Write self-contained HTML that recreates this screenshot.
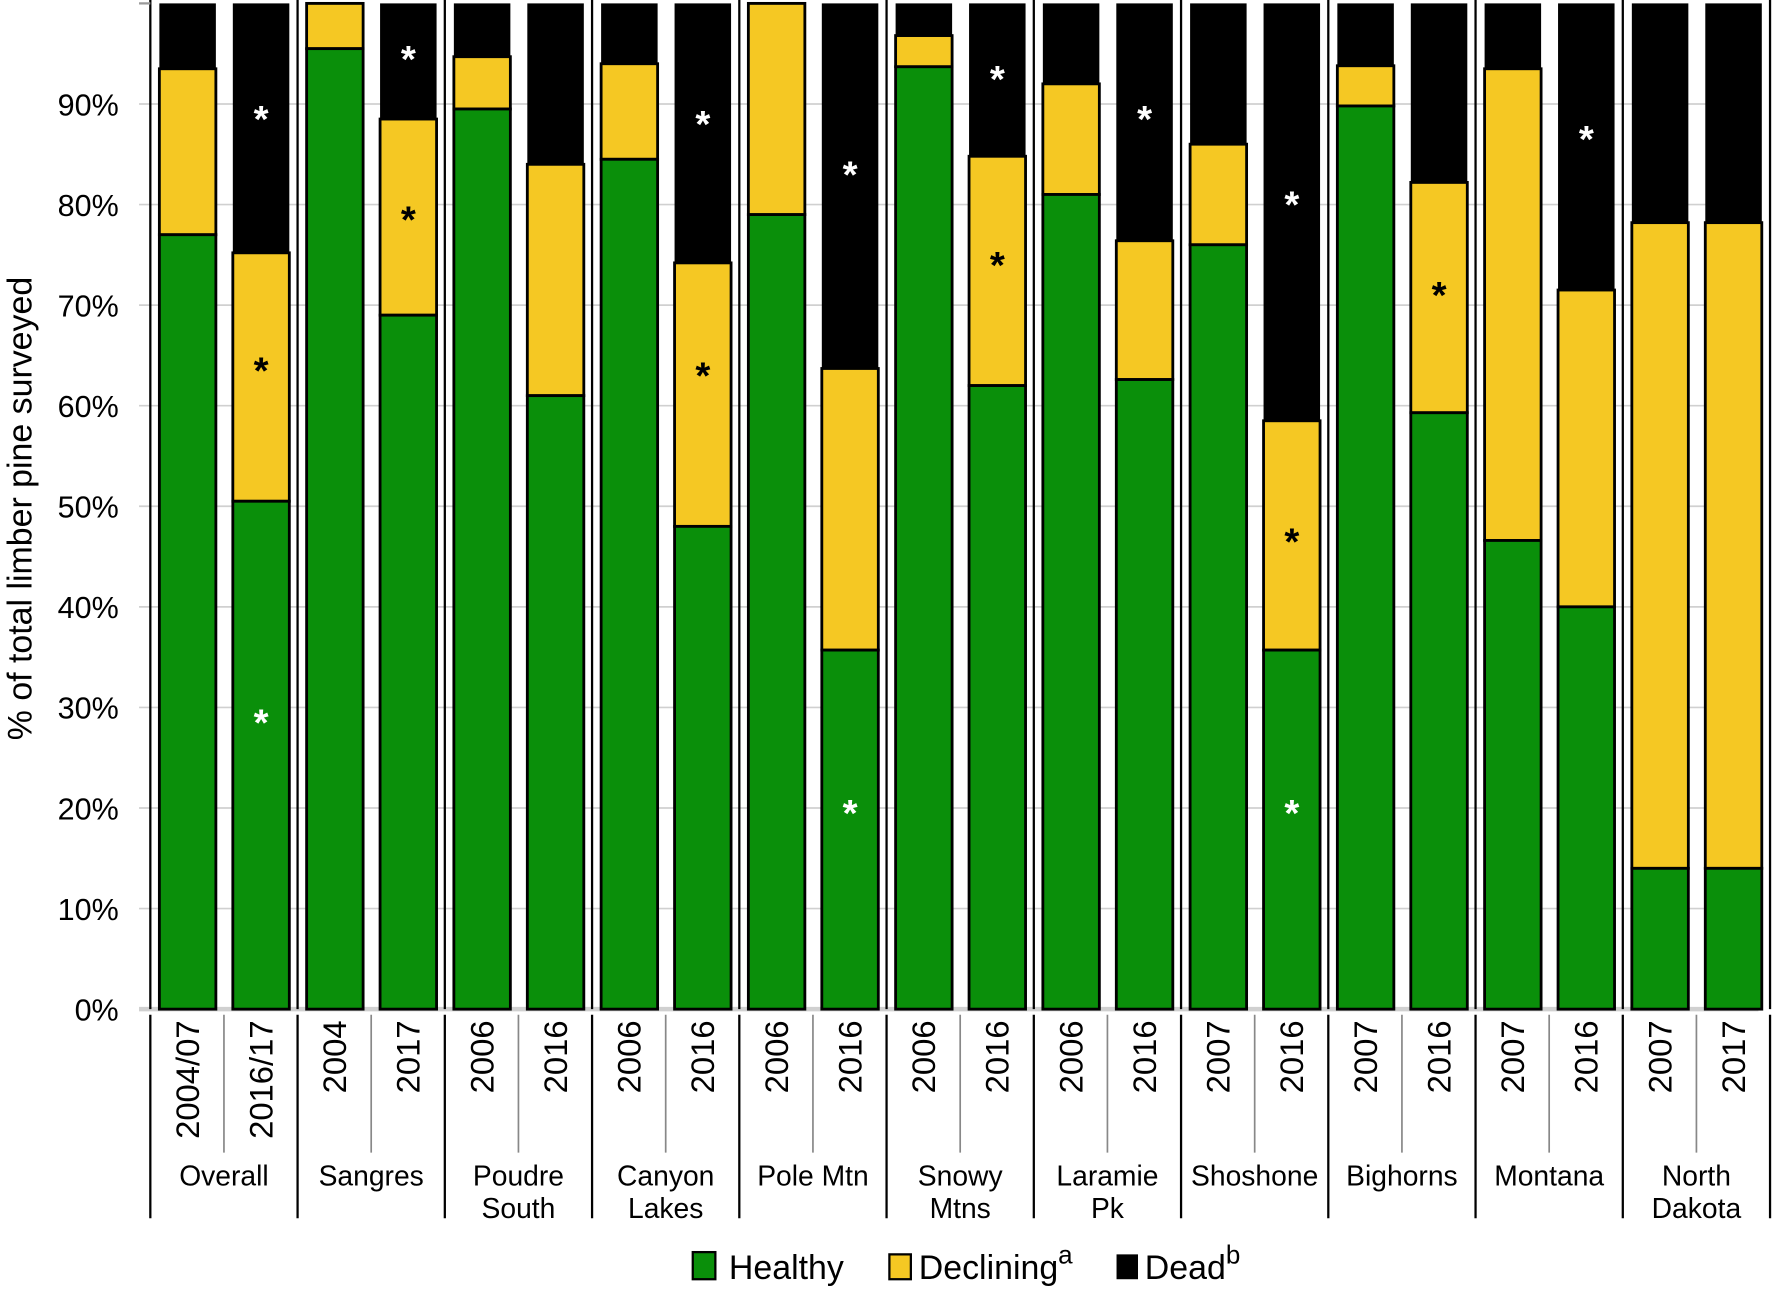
<!DOCTYPE html>
<html><head><meta charset="utf-8"><style>
html,body{margin:0;padding:0;background:#fff;}
svg{display:block;font-family:"Liberation Sans",sans-serif;}
</style></head><body>
<svg id="chart" width="1772" height="1292" viewBox="0 0 1568 1143.3" xmlns="http://www.w3.org/2000/svg">
<g id="grid"></g>
<g id="bars"></g>
<g id="stars"></g>
<g id="xaxis"></g>
<g id="yaxis"></g>
<text transform="translate(28,450) rotate(-90)" text-anchor="middle" font-size="30">% of total limber pine surveyed</text>
<g>
  <g>
    <rect x="613" y="1108" width="20" height="24" fill="#0a8f0a" stroke="#000" stroke-width="2"/>
    <text x="645" y="1132" font-size="30">Healthy</text>
  </g>
  <g>
    <rect x="787" y="1110" width="19" height="22" fill="#f5c823" stroke="#000" stroke-width="2"/>
    <text x="813" y="1132" font-size="30">Declining<tspan font-size="23" dy="-14">a</tspan></text>
  </g>
  <g>
    <rect x="988" y="1110" width="19" height="22" fill="#000"/>
    <text x="1013" y="1132" font-size="30">Dead<tspan font-size="23" dy="-14">b</tspan></text>
  </g>
</g>
</svg>
<script>
const groups = ["Overall","Sangres","Poudre South","Canyon Lakes","Pole Mtn","Snowy Mtns","Laramie Pk","Shoshone","Bighorns","Montana","North Dakota"];
const years = ["2004/07","2016/17","2004","2017","2006","2016","2006","2016","2006","2016","2006","2016","2006","2016","2007","2016","2007","2016","2007","2016","2007","2017"];
const healthy = [77,50.5,95.5,69,89.5,61,84.5,48,79,35.7,93.7,62,81,62.6,76,35.7,89.8,59.3,46.6,40,14,14];
const declining = [16.5,24.7,4.5,19.5,5.2,23,9.5,26.2,21,28,3.1,22.8,11,13.8,10,22.8,4,22.9,46.9,31.5,64.2,64.2];
const starBar = [1,1,1,3,3,7,7,9,9,11,11,13,15,15,15,17,19];
const starVal = [89,64,29,95,79,88.5,63.5,83.5,20,93,74.5,89,80.5,47,20,71.5,87];
const starWhite = [1,0,1,1,0,1,0,1,1,1,0,1,1,0,1,0,1];
const yTicks = ["0%","10%","20%","30%","40%","50%","60%","70%","80%","90%"];

const NS="http://www.w3.org/2000/svg";
const X0=133, GW=130.3, Y0=893, Y100=3;
const y = v => Y0 - (Y0-Y100)*v/100;
const barCenter = i => X0 + Math.floor(i/2)*GW + (i%2===0 ? 33 : 98);
const BW = 50;
function mk(tag, attrs, parent){const e=document.createElementNS(NS,tag);for(const k in attrs)e.setAttribute(k,attrs[k]);parent.appendChild(e);return e;}
const grid=document.getElementById('grid'), bars=document.getElementById('bars'), stars=document.getElementById('stars'), xa=document.getElementById('xaxis'), ya=document.getElementById('yaxis');

yTicks.forEach((t,i)=>{
  const v=i*10;
  const l=mk('line',{x1:X0-10,x2:1556,y1:y(v),y2:y(v),stroke:'#d0d0d0','stroke-width':i===0?4:1.5},grid);
  
  
  const tx=mk('text',{x:105,y:y(v)+10,'text-anchor':'end','font-size':27},ya);
  tx.textContent=t;
  
  
});
mk('line',{x1:X0-10,x2:X0,y1:y(100),y2:y(100),stroke:'#999','stroke-width':2},ya);

for(let g=0; g<=groups.length; g++){
  const x=X0+g*GW;
  const s=mk('line',{x1:x,x2:x,y1:0,y2:y(0),stroke:'#000','stroke-width':2},grid);
  
  
}

healthy.forEach((h,i)=>{
  const cx=barCenter(i), x=cx-BW/2;
  const top=h+declining[i];
  const dead=mk('rect',{x:x,y:y(100),width:BW,height:y(top)-y(100),fill:'#000'},bars);
  
  
  const dec=mk('rect',{x:x,y:y(top),width:BW,height:y(h)-y(top),fill:'#f5c823',stroke:'#000','stroke-width':2.5},bars);
  
  
  const hl=mk('rect',{x:x,y:y(h),width:BW,height:y(0)-y(h),fill:'#0a8f0a',stroke:'#000','stroke-width':2.5},bars);
  
  
  const yl=mk('text',{transform:`translate(${cx+10},${903}) rotate(-90)`,'text-anchor':'end','font-size':29},xa);
  yl.textContent=years[i];
  
  
});

starVal.forEach((v,k)=>{
  const s=mk('text',{x:barCenter(starBar[k]),y:y(v)+16,'text-anchor':'middle','font-size':34,'font-weight':'bold',fill:starWhite[k]?'#fff':'#000'},stars);
  s.textContent='*';
  
  
});

groups.forEach((g,i)=>{
  const gx=X0+i*GW;
  const sep=mk('line',{x1:gx,x2:gx,y1:898,y2:1078,stroke:'#000','stroke-width':2},xa);
  
  
  const sub=mk('line',{x1:gx+GW/2,x2:gx+GW/2,y1:898,y2:1020,stroke:'#888','stroke-width':1.5},xa);
  
  
  const parts=g==="Pole Mtn"?[g]:g.split(' ');
  const t=mk('text',{x:gx+GW/2,y:1049,'text-anchor':'middle','font-size':25},xa);
  
  
  parts.forEach((p,j)=>{const ts=mk('tspan',{x:gx+GW/2,dy:j===0?0:29},t);ts.textContent=p;});
});
const last=X0+groups.length*GW;
mk('line',{x1:last,x2:last,y1:898,y2:1078,stroke:'#000','stroke-width':2},xa);
</script>
</body></html>
